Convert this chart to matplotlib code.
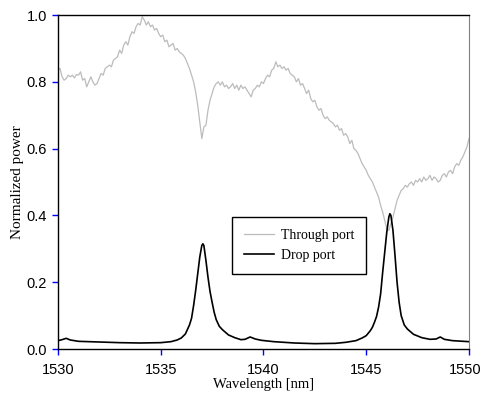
import matplotlib
matplotlib.use('Agg')
import matplotlib.pyplot as plt
import matplotlib.transforms as mtransforms
import numpy as np

# Through port: 0.1 nm steps from 1530.0 to 1550.0
through_x = np.round(np.arange(1530.0, 1550.05, 0.1), 2)
through_y = [
    0.835, 0.84, 0.815, 0.805, 0.81, 0.82, 0.815, 0.82, 0.812, 0.822,
    0.82, 0.83, 0.805, 0.81, 0.785, 0.80, 0.815, 0.80, 0.79, 0.795,
    0.81, 0.825, 0.82, 0.84, 0.845, 0.85, 0.845, 0.865, 0.87, 0.875,
    0.895, 0.885, 0.91, 0.92, 0.91, 0.935, 0.95, 0.945, 0.965, 0.975,
    0.97, 0.995, 0.985, 0.97, 0.98, 0.965, 0.97, 0.955, 0.96, 0.945,
    0.935, 0.94, 0.92, 0.925, 0.905, 0.91, 0.915, 0.895, 0.90, 0.89,
    0.885, 0.88, 0.87, 0.855, 0.84, 0.82, 0.80, 0.77, 0.73, 0.68,
    0.63, 0.665, 0.67, 0.715, 0.745, 0.765, 0.785, 0.795, 0.80, 0.79,
    0.80, 0.785, 0.79, 0.78, 0.785, 0.795, 0.78, 0.79, 0.775, 0.79,
    0.78, 0.785, 0.775, 0.765, 0.755, 0.775, 0.78, 0.79, 0.785, 0.80,
    0.795, 0.81, 0.82, 0.815, 0.835, 0.84, 0.86, 0.845, 0.85, 0.84,
    0.845, 0.835, 0.84, 0.825, 0.82, 0.815, 0.80, 0.81, 0.79, 0.795,
    0.78, 0.765, 0.775, 0.75, 0.74, 0.745, 0.725, 0.715, 0.72, 0.70,
    0.69, 0.695, 0.685, 0.68, 0.675, 0.665, 0.67, 0.655, 0.66, 0.64,
    0.645, 0.635, 0.615, 0.625, 0.60, 0.595, 0.585, 0.57, 0.555, 0.545,
    0.535, 0.52, 0.51, 0.50, 0.485, 0.47, 0.455, 0.43, 0.41, 0.385,
    0.36, 0.355, 0.375, 0.395, 0.42, 0.445, 0.46, 0.475, 0.48, 0.49,
    0.485, 0.495, 0.50, 0.49, 0.505, 0.50, 0.51, 0.50, 0.515, 0.505,
    0.51, 0.52, 0.505, 0.515, 0.51, 0.50, 0.505, 0.52, 0.525, 0.515,
    0.53, 0.535, 0.525, 0.545, 0.555, 0.55, 0.565, 0.575, 0.59, 0.605,
    0.63,
]

drop_x = [
    1530.0, 1530.2, 1530.4, 1530.6, 1531.0, 1532.0, 1533.0, 1534.0, 1535.0, 1535.5,
    1535.8, 1536.0, 1536.2, 1536.4, 1536.5, 1536.6, 1536.7, 1536.8, 1536.9, 1537.0,
    1537.05, 1537.1, 1537.2, 1537.3, 1537.4, 1537.5, 1537.6, 1537.7, 1537.85, 1538.0,
    1538.3, 1538.6, 1538.9, 1539.1, 1539.35, 1539.6, 1539.9, 1540.5, 1541.5, 1542.5,
    1543.5, 1544.0, 1544.5, 1544.8, 1545.0, 1545.2, 1545.3, 1545.4, 1545.5, 1545.6,
    1545.7, 1545.8, 1545.9, 1546.0, 1546.1, 1546.15, 1546.2, 1546.3, 1546.4, 1546.5,
    1546.6, 1546.7, 1546.85, 1547.0, 1547.3, 1547.7, 1548.1, 1548.4, 1548.6, 1548.8,
    1549.2, 1550.0,
]
drop_y = [
    0.025, 0.028, 0.032, 0.027, 0.023, 0.021, 0.019, 0.018, 0.019, 0.022,
    0.027, 0.033, 0.045, 0.072, 0.092, 0.13, 0.175, 0.225, 0.275, 0.31,
    0.315, 0.31, 0.265, 0.215, 0.172, 0.14, 0.11, 0.088, 0.068, 0.058,
    0.042, 0.034, 0.028, 0.029, 0.036, 0.03, 0.026, 0.022, 0.018, 0.016,
    0.017, 0.02, 0.025, 0.033, 0.04, 0.055, 0.065, 0.08, 0.097, 0.125,
    0.165, 0.23, 0.29, 0.35, 0.395, 0.405, 0.40, 0.355, 0.28, 0.2,
    0.14, 0.1, 0.072, 0.06, 0.044, 0.034, 0.029, 0.03, 0.036, 0.029,
    0.025, 0.022,
]

x_ticks = [1530, 1535, 1540, 1545, 1550]
y_ticks = [0.0, 0.2, 0.4, 0.6, 0.8, 1.0]

fig = plt.figure(figsize=(4.83, 3.99), dpi=100)
ax = fig.add_axes([0.120, 0.1253, 0.851, 0.837])

ax.plot(through_x, through_y, color='#bcbcbc', linewidth=0.9, label='Through port')
ax.plot(drop_x, drop_y, color='black', linewidth=1.2, label='Drop port')

ax.set_xlim(1530, 1550)
ax.set_ylim(0, 1.0)
ax.set_xticks(x_ticks)
ax.set_yticks(y_ticks)
ax.set_xticklabels([str(t) for t in x_ticks], family='Liberation Sans', fontsize=10.5)
ax.set_yticklabels([f'{t:.1f}' for t in y_ticks], family='Liberation Sans', fontsize=10.5)
ax.tick_params(axis='x', direction='out', length=4, width=1, color='blue', pad=6)
ax.tick_params(axis='y', direction='out', length=4, width=1, color='blue', pad=4)

# nudge the last x label so it stays inside the figure
last = ax.get_xticklabels()[-1]
last.set_transform(last.get_transform() +
                   mtransforms.ScaledTranslation(-3 / 72, 0, fig.dpi_scale_trans))

for side in ['left', 'bottom', 'top']:
    ax.spines[side].set_color('black')
    ax.spines[side].set_linewidth(1.0)
ax.spines['right'].set_color('#808080')

ax.set_xlabel('Wavelength [nm]', family='Liberation Serif', fontsize=10.5, labelpad=1)
ax.set_ylabel('Normalized power', family='Liberation Serif', fontsize=11, labelpad=2)

leg = ax.legend(loc='upper left', bbox_to_anchor=(0.423, 0.395), borderaxespad=0,
                prop={'family': 'Liberation Serif', 'size': 10},
                fancybox=False, shadow=False, framealpha=1, edgecolor='black',
                handlelength=2.2, handletextpad=0.5, labelspacing=0.5, borderpad=0.85)
leg.get_frame().set_linewidth(1.0)

plt.savefig('out.png', dpi=100)
